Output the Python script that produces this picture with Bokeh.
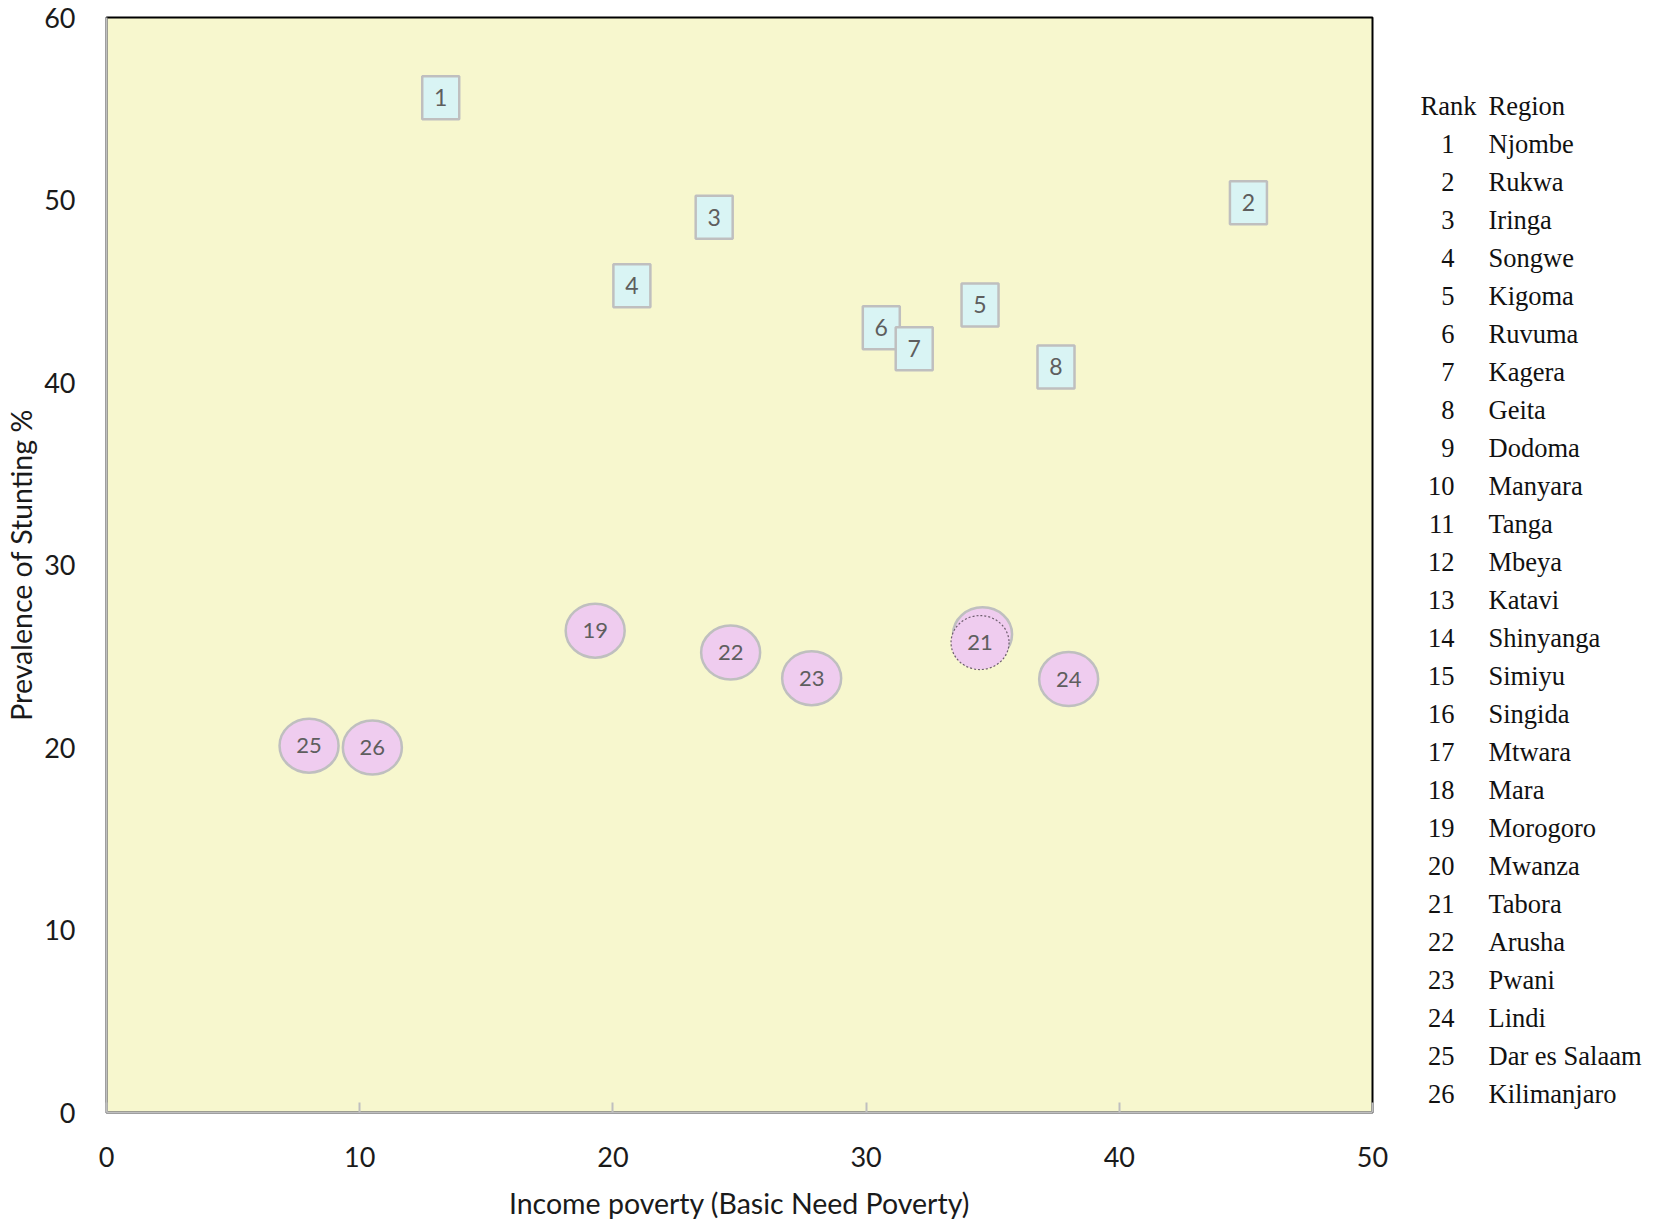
from bokeh.plotting import figure
from bokeh.models import Range1d, ColumnDataSource, FixedTicker
from bokeh.layouts import row
from bokeh.core.properties import value
from bokeh.embed import file_html
from bokeh.resources import INLINE

# ---- data ----
ranks_high = [1, 2, 3, 4, 5, 6, 7, 8]
poverty_high = [13.2, 45.1, 24.0, 20.75, 34.5, 30.6, 31.9, 37.5]
stunting_high = [55.6, 49.85, 49.05, 45.3, 44.25, 43.0, 41.85, 40.85]

ranks_low = [19, 20, 21, 22, 23, 24, 25, 26]
poverty_low = [19.3, 34.6, 34.5, 24.65, 27.85, 38.0, 8.0, 10.5]
stunting_low = [26.4, 26.2, 25.75, 25.2, 23.8, 23.75, 20.1, 20.0]
highlighted_rank = 21

legend_ranks = list(range(1, 27))
legend_regions = ["Njombe", "Rukwa", "Iringa", "Songwe", "Kigoma", "Ruvuma", "Kagera",
                  "Geita", "Dodoma", "Manyara", "Tanga", "Mbeya", "Katavi", "Shinyanga",
                  "Simiyu", "Singida", "Mtwara", "Mara", "Morogoro", "Mwanza", "Tabora",
                  "Arusha", "Pwani", "Lindi", "Dar es Salaam", "Kilimanjaro"]

x_ticks = [0, 10, 20, 30, 40, 50]
y_ticks = [0, 10, 20, 30, 40, 50, 60]

# ---- layout constants ----
TOTAL_W, TOTAL_H = 1654, 1223
FRAME_W, FRAME_H = 1266, 1095
LEFT, TOP, RIGHT_PAD = 106, 17, 22
BOTTOM = TOTAL_H - TOP - FRAME_H
FONT = "Lato"
SERIF = "Liberation Serif"

p = figure(frame_width=FRAME_W, frame_height=FRAME_H,
           x_range=Range1d(0, 50), y_range=Range1d(0, 60),
           output_backend="svg", toolbar_location=None,
           min_border_left=LEFT, min_border_right=RIGHT_PAD,
           min_border_top=TOP, min_border_bottom=BOTTOM)
p.background_fill_color = "#F7F7CE"
p.border_fill_color = "white"
p.outline_line_color = "black"
p.outline_line_width = 2
p.grid.visible = False

# axes
p.xaxis.ticker = FixedTicker(ticks=x_ticks)
p.yaxis.ticker = FixedTicker(ticks=y_ticks)
for ax in (p.xaxis[0], p.yaxis[0]):
    ax.axis_line_color = "#BFBFBF"
    ax.axis_line_width = 2
    ax.minor_tick_line_color = None
    ax.major_label_text_font = FONT
    ax.major_label_text_font_size = "27px"
    ax.major_label_text_color = "#1A1A1A"
    ax.axis_label_text_font = FONT
    ax.axis_label_text_font_size = "28.5px"
    ax.axis_label_text_font_style = "normal"
    ax.axis_label_text_color = "#1A1A1A"
p.xaxis.major_tick_in = 10
p.xaxis.major_tick_out = 0
p.xaxis.major_tick_line_color = "#BFBFBF"
p.xaxis.major_tick_line_width = 2
p.xaxis.major_label_standoff = 34
p.xaxis.axis_label = "Income poverty (Basic Need Poverty)"
p.xaxis.axis_label_standoff = 16
p.yaxis.major_tick_in = 0
p.yaxis.major_tick_out = 0
p.yaxis.major_tick_line_color = None
p.yaxis.major_label_standoff = 31
p.yaxis.axis_label = "Prevalence of Stunting %"
p.yaxis.axis_label_standoff = 3

SQ_FILL = "#D9F4F4"
CI_FILL = "#EFCCEF"
BORDER = "#BFBFBF"
LABEL_COL = "#5E5E5E"

# high-stunting group: squares
src_high = ColumnDataSource(dict(x=poverty_high, y=stunting_high,
                                 t=[str(r) for r in ranks_high]))
p.rect("x", "y", width=37, height=43, width_units="screen", height_units="screen",
       source=src_high, fill_color=SQ_FILL, line_color=BORDER, line_width=2.5)
p.text("x", "y", text="t", source=src_high, text_align="center", text_baseline="middle",
       text_font=value(FONT), text_font_size="23px", text_color=LABEL_COL)

# low-stunting group: circles
mask = [r != highlighted_rank for r in ranks_low]
src_low = ColumnDataSource(dict(
    x=[v for v, m in zip(poverty_low, mask) if m],
    y=[v for v, m in zip(stunting_low, mask) if m],
    t=[str(r) for r, m in zip(ranks_low, mask) if m]))
src_hi = ColumnDataSource(dict(
    x=[v for v, m in zip(poverty_low, mask) if not m],
    y=[v for v, m in zip(stunting_low, mask) if not m],
    t=[str(r) for r, m in zip(ranks_low, mask) if not m]))
p.ellipse("x", "y", width=59, height=54, width_units="screen", height_units="screen",
          source=src_low, fill_color=CI_FILL, line_color=BORDER, line_width=2.5)
p.text("x", "y", text="t", source=src_low, text_align="center", text_baseline="middle",
       text_font=value(FONT), text_font_size="22px", text_color=LABEL_COL)
p.ellipse("x", "y", width=58, height=54, width_units="screen", height_units="screen",
          source=src_hi, fill_color=CI_FILL, line_color="#6E5E6E", line_width=1.2,
          line_dash="2 2")
p.text("x", "y", text="t", source=src_hi, text_align="center", text_baseline="middle",
       text_font=value(FONT), text_font_size="22px", text_color=LABEL_COL)

# ---- rank / region table: a second, axis-less panel in page-pixel coordinates ----
LEG_W = TOTAL_W - (LEFT + FRAME_W + RIGHT_PAD)
leg = figure(frame_width=LEG_W, frame_height=FRAME_H,
             x_range=Range1d(0, LEG_W), y_range=Range1d(TOP + FRAME_H, TOP),
             x_axis_type=None, y_axis_type=None,
             output_backend="svg", toolbar_location=None,
             min_border_left=0, min_border_right=0,
             min_border_top=TOP, min_border_bottom=BOTTOM)
leg.outline_line_color = None
leg.grid.visible = False
leg.background_fill_color = "white"
leg.border_fill_color = "white"

left0 = LEFT + FRAME_W + RIGHT_PAD
row0, row_step, header_y = 143.5, 37.98, 105.5
rank_right, name_left, head_left = 1454 - left0, 1488 - left0, 1420 - left0
leg_src = ColumnDataSource(dict(
    xr=[rank_right] * len(legend_ranks),
    xn=[name_left] * len(legend_ranks),
    y=[row0 + i * row_step for i in range(len(legend_ranks))],
    r=[str(r) for r in legend_ranks],
    n=legend_regions))
txt = dict(text_baseline="middle", text_font=value(SERIF), text_font_size="26.5px",
           text_color="#111111")
leg.text("xr", "y", text="r", source=leg_src, text_align="right", **txt)
leg.text("xn", "y", text="n", source=leg_src, text_align="left", **txt)
leg.text(x=[head_left, name_left], y=[header_y, header_y], text=["Rank", "Region"],
         text_align="left", **txt)

open("out.html", "w").write(file_html(row(p, leg), INLINE))
